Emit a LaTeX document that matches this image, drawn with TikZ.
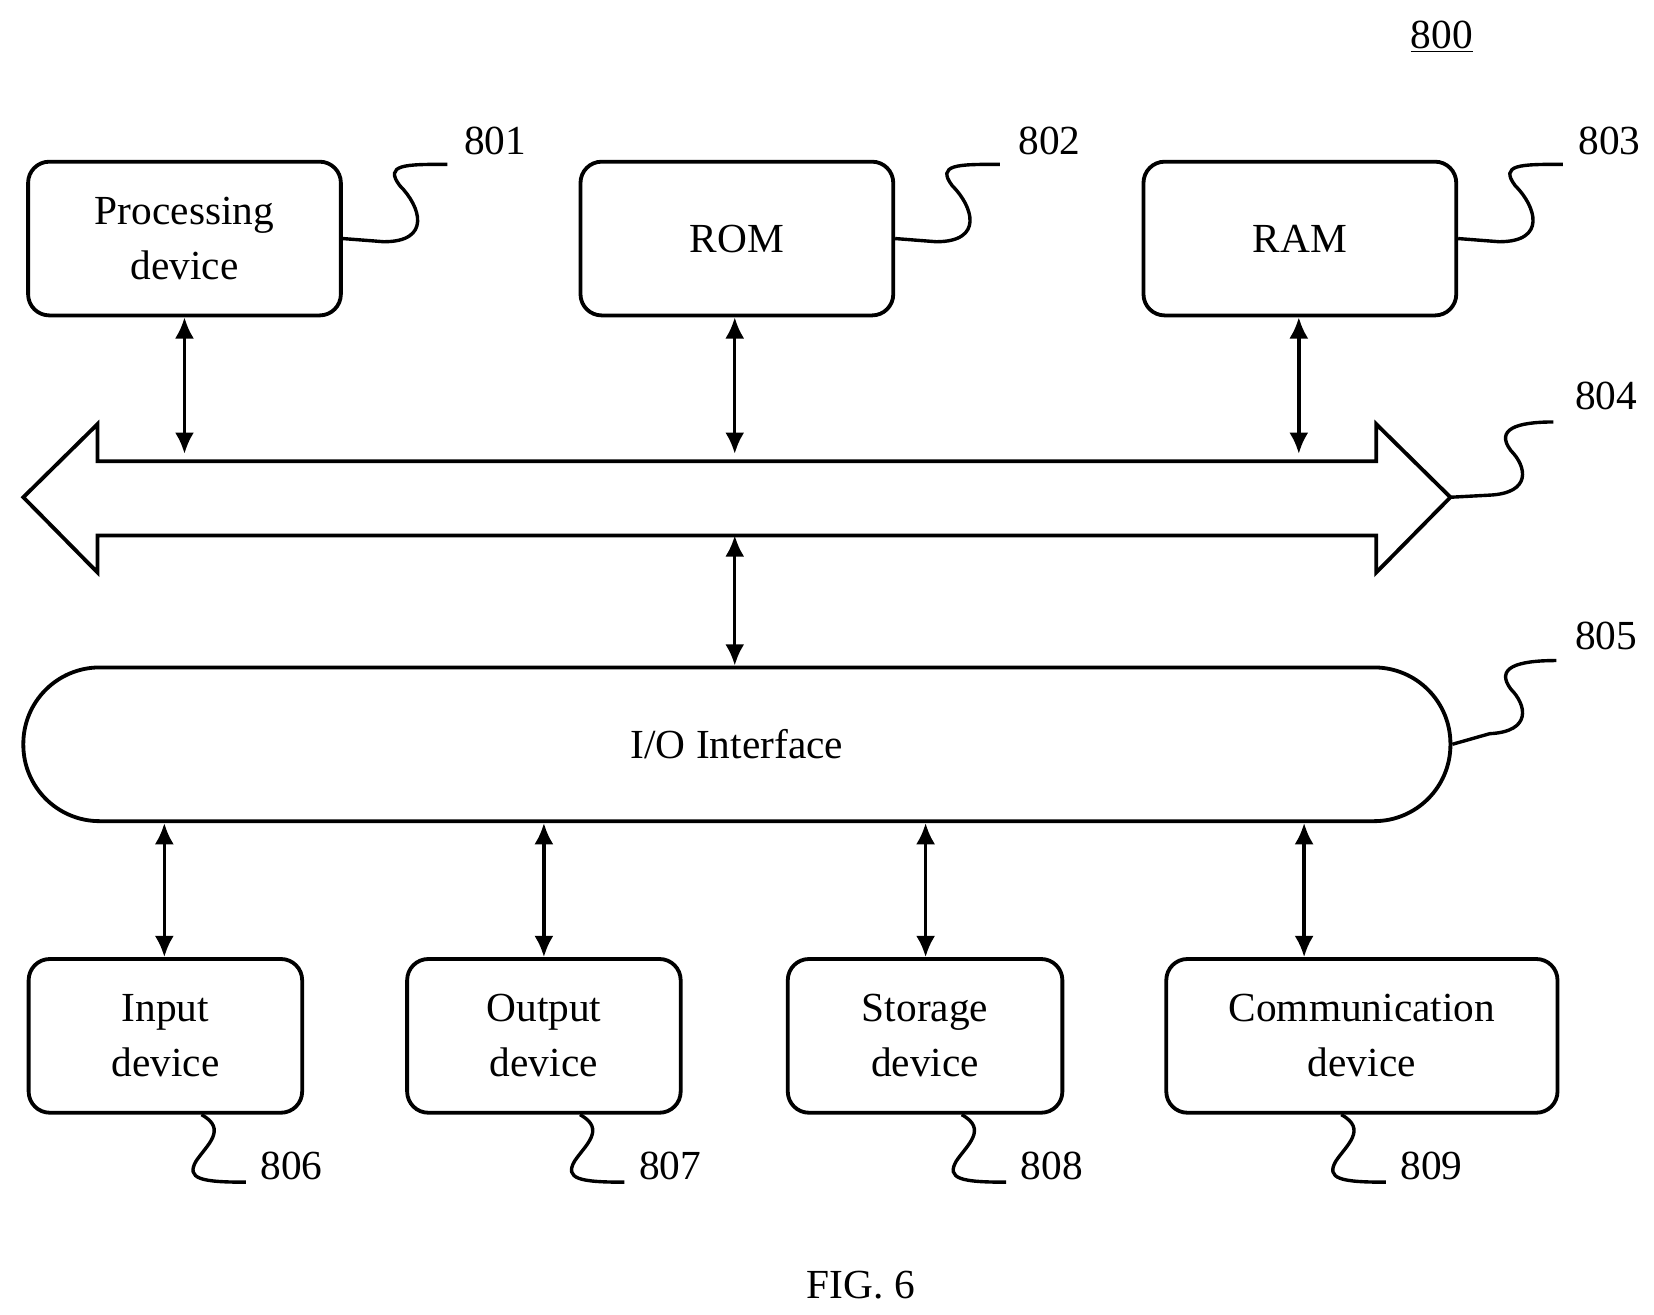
\documentclass[tikz,border=0pt]{standalone}
\usepackage{fontspec}
\setmainfont{Liberation Serif}
\usetikzlibrary{arrows.meta}
\begin{document}
\begin{tikzpicture}[x=0.5pt,y=-0.5pt,
 box/.style={draw,line width=1.8pt,rounded corners=10pt,align=center,inner sep=0pt,font=\fontsize{19.5}{26}\selectfont},
 lbl/.style={font=\fontsize{19.5}{23}\selectfont},
 lead/.style={line width=1.6pt},
 arr/.style={line width=1.6pt,{Latex[length=10pt,width=9pt]}-{Latex[length=10pt,width=9pt]}}]
\path[use as bounding box] (0,0) rectangle (1560,1240);
\node[lbl] (n800) at (1360,35) {\underline{800}};
% top boxes
\node[box,minimum width=147.5pt,minimum height=72.5pt] (p) at (174,225) {Processing\\device};
\node[box,minimum width=147.5pt,minimum height=72.5pt] (rom) at (695,225) {ROM};
\node[box,minimum width=147.5pt,minimum height=72.5pt] (ram) at (1226,225) {RAM};
\node[lbl] (l801) at (467,133) {801};
\node[lbl] (l802) at (990,133) {802};
\node[lbl] (l803) at (1518,133) {803};
\foreach \b/\x in {p/322,rom/843,ram/1374}{
 \draw[lead] (\b.east) -- (\x+40,228) .. controls (\x+85,228) and (\x+75,195) .. (\x+55,175) .. controls (\x+40,155) and (\x+60,155) .. (\x+100,155);
}
% bus
\coordinate (bl) at (22,469);
\coordinate (br) at (1368,469);
\draw[line width=1.8pt] (bl) -- (92,400) -- (92,435) -- (1298,435) -- (1298,400) -- (br) -- (1298,540) -- (1298,505) -- (92,505) -- (92,540) -- cycle;
\node[lbl] (l804) at (1515,373) {804};
\draw[lead] (br) -- (1405,467) .. controls (1445,465) and (1440,440) .. (1425,425) .. controls (1410,405) and (1430,398) .. (1465,398);
\coordinate (b1) at (174,428);
\coordinate (b2) at (693,428);
\coordinate (b3) at (1225,428);
\coordinate (b4) at (693,505);
\draw[arr] (p.south -| b1) -- (b1);
\draw[arr] (rom.south -| b2) -- (b2);
\draw[arr] (ram.south -| b3) -- (b3);
% IO
\node[box,rounded corners=36pt,minimum width=673pt,minimum height=72.5pt] (io) at (695,702) {I/O Interface};
\draw[arr] (b4) -- (io.north -| b4);
\node[lbl] (l805) at (1515,600) {805};
\draw[lead] (io.east) -- (1405,692) .. controls (1445,690) and (1440,665) .. (1425,650) .. controls (1410,630) and (1430,623) .. (1468,623);
% bottom boxes
\node[box,minimum width=129pt,minimum height=72.5pt] (in) at (156,977) {Input\\device};
\node[box,minimum width=129pt,minimum height=72.5pt] (out) at (513,977) {Output\\device};
\node[box,minimum width=129.5pt,minimum height=72.5pt] (st) at (872.5,977) {Storage\\device};
\node[box,minimum width=184.5pt,minimum height=72.5pt] (com) at (1284.5,977) {Communication\\device};
\foreach \b/\x in {in/155,out/513,st/873,com/1230}{
 \draw[arr] (io.south -| \x,0) -- (\b.north -| \x,0);
}
\foreach \b/\x/\n in {in/190/806,out/547/807,st/907/808,com/1265/809}{
 \draw[lead] (\b.south -| \x,0) .. controls (\x+25,1065) and (\x+5,1080) .. (\x-5,1095) .. controls (\x-15,1112) and (\x,1115) .. (\x+42,1115);
 \node[lbl] (l\n) at (\x+85,1100) {\n};
}
\node[lbl] (fig) at (812,1212) {FIG. 6};
\end{tikzpicture}
\end{document}
